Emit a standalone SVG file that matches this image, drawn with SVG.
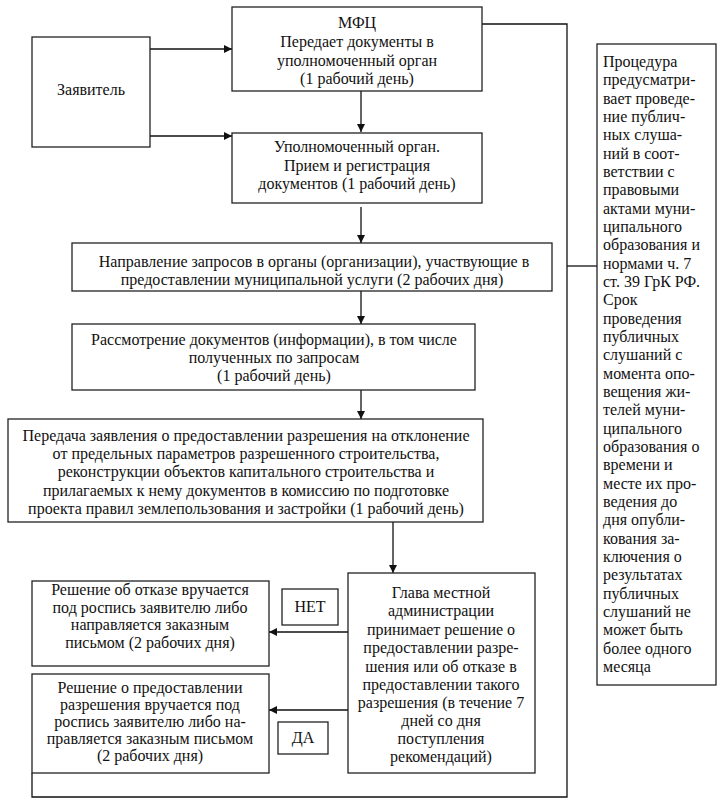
<svg xmlns="http://www.w3.org/2000/svg" width="723" height="804" viewBox="0 0 723 804">
<style>
.b{fill:#fff;stroke:#222;stroke-width:1.3}
.c{fill:none;stroke:#111;stroke-width:1.3}
text{font-family:'Liberation Serif','Tinos','DejaVu Serif',serif;font-size:16px;fill:#111}
.m{text-anchor:middle}
</style>
<defs>
<marker id="a" viewBox="0 0 10 10" refX="10" refY="5" markerWidth="8" markerHeight="8" markerUnits="userSpaceOnUse" orient="auto">
<path d="M0,0L10,5L0,10z" fill="#111"/>
</marker>
</defs>
<rect width="723" height="804" fill="#fff"/>
<g id="connectors">
<path class="c" d="M150,49H232" marker-end="url(#a)"/>
<path class="c" d="M150,136H232" marker-end="url(#a)"/>
<path class="c" d="M361,91V132" marker-end="url(#a)"/>
<path class="c" d="M361,207V243" marker-end="url(#a)"/>
<path class="c" d="M361,291V324" marker-end="url(#a)"/>
<path class="c" d="M361,382V419" marker-end="url(#a)"/>
<path class="c" d="M393,520V573" marker-end="url(#a)"/>
<path class="c" d="M348,632H269" marker-end="url(#a)"/>
<path class="c" d="M348,710H269" marker-end="url(#a)"/>
<path class="c" d="M482,24H567V797H32V773"/>
<path class="c" d="M567,266H597"/>
</g>
<g id="zayavitel"><rect class="b" x="32" y="37" width="118" height="110"/><text class="m" x="91" y="95">Заявитель</text></g>
<g id="mfc"><rect class="b" x="232" y="7" width="250" height="84"/>
<text class="m" x="357"><tspan x="357" y="28">МФЦ</tspan><tspan x="357" y="47">Передает документы в</tspan><tspan x="357" y="66">уполномоченный орган</tspan><tspan x="357" y="84">(1 рабочий день)</tspan></text></g>
<g id="upoln"><rect class="b" x="232" y="133" width="250" height="70"/>
<text class="m"><tspan x="357" y="152">Уполномоченный орган.</tspan><tspan x="357" y="171">Прием и регистрация</tspan><tspan x="357" y="189">документов (1 рабочий день)</tspan></text></g>
<g id="napravlenie"><rect class="b" x="72" y="243" width="480" height="48"/>
<text class="m"><tspan x="314" y="267">Направление запросов в органы (организации), участвующие в</tspan><tspan x="312" y="285">предоставлении муниципальной услуги (2 рабочих дня)</tspan></text></g>
<g id="rassmotrenie"><rect class="b" x="72" y="324" width="403" height="66"/>
<text class="m"><tspan x="274" y="345">Рассмотрение документов (информации), в том числе</tspan><tspan x="274" y="363">полученных по запросам</tspan><tspan x="274" y="381">(1 рабочий день)</tspan></text></g>
<g id="peredacha"><rect class="b" x="8" y="419" width="475" height="103"/>
<text class="m"><tspan x="246" y="441">Передача заявления о предоставлении разрешения на отклонение</tspan><tspan x="246" y="459">от предельных параметров разрешенного строительства,</tspan><tspan x="246" y="477">реконструкции объектов капитального строительства и</tspan><tspan x="246" y="496">прилагаемых к нему документов в комиссию по подготовке</tspan><tspan x="246" y="514">проекта правил землепользования и застройки (1 рабочий день)</tspan></text></g>
<g id="glava"><rect class="b" x="348" y="573" width="187" height="200"/>
<text class="m"><tspan x="441" y="598">Глава местной</tspan><tspan x="441" y="616">администрации</tspan><tspan x="441" y="635">принимает решение о</tspan><tspan x="441" y="653">предоставлении разре-</tspan><tspan x="441" y="672">шения или об отказе в</tspan><tspan x="441" y="690">предоставлении такого</tspan><tspan x="441" y="708">разрешения (в течение 7</tspan><tspan x="441" y="726">дней со дня</tspan><tspan x="441" y="744">поступления</tspan><tspan x="441" y="762">рекомендаций)</tspan></text></g>
<g id="otkaz"><rect class="b" x="32" y="581" width="237" height="85"/>
<text class="m"><tspan x="150" y="595">Решение об отказе вручается</tspan><tspan x="150" y="613">под роспись заявителю либо</tspan><tspan x="150" y="630">направляется заказным</tspan><tspan x="150" y="648">письмом (2 рабочих дня)</tspan></text></g>
<g id="net"><rect class="b" x="282" y="589" width="56" height="36"/><text class="m" x="310" y="612">НЕТ</text></g>
<g id="predostavlenie"><rect class="b" x="32" y="674" width="237" height="99"/>
<text class="m"><tspan x="150" y="693">Решение о предоставлении</tspan><tspan x="150" y="710">разрешения вручается под</tspan><tspan x="150" y="727">роспись заявителю либо на-</tspan><tspan x="150" y="744">правляется заказным письмом</tspan><tspan x="150" y="761">(2 рабочих дня)</tspan></text></g>
<g id="da"><rect class="b" x="278" y="722" width="50" height="32"/><text class="m" x="303" y="743">ДА</text></g>
<g id="procedura"><rect class="b" x="597" y="44" width="119" height="641"/>
<text><tspan x="603" y="67">Процедура</tspan><tspan x="603" y="85">предусматри-</tspan><tspan x="603" y="104">вает проведе-</tspan><tspan x="603" y="122">ние публич-</tspan><tspan x="603" y="140">ных слуша-</tspan><tspan x="603" y="159">ний в соот-</tspan><tspan x="603" y="177">ветствии с</tspan><tspan x="603" y="195">правовыми</tspan><tspan x="603" y="214">актами муни-</tspan><tspan x="603" y="232">ципального</tspan><tspan x="603" y="250">образования и</tspan><tspan x="603" y="269">нормами ч. 7</tspan><tspan x="603" y="287">ст. 39 ГрК РФ.</tspan><tspan x="603" y="305">Срок</tspan><tspan x="603" y="324">проведения</tspan><tspan x="603" y="342">публичных</tspan><tspan x="603" y="360">слушаний с</tspan><tspan x="603" y="379">момента опо-</tspan><tspan x="603" y="397">вещения жи-</tspan><tspan x="603" y="415">телей муни-</tspan><tspan x="603" y="434">ципального</tspan><tspan x="603" y="452">образования о</tspan><tspan x="603" y="470">времени и</tspan><tspan x="603" y="489">месте их про-</tspan><tspan x="603" y="507">ведения до</tspan><tspan x="603" y="525">дня опубли-</tspan><tspan x="603" y="544">кования за-</tspan><tspan x="603" y="562">ключения о</tspan><tspan x="603" y="580">результатах</tspan><tspan x="603" y="599">публичных</tspan><tspan x="603" y="617">слушаний не</tspan><tspan x="603" y="635">может быть</tspan><tspan x="603" y="654">более одного</tspan><tspan x="603" y="672">месяца</tspan></text></g>
</svg>
